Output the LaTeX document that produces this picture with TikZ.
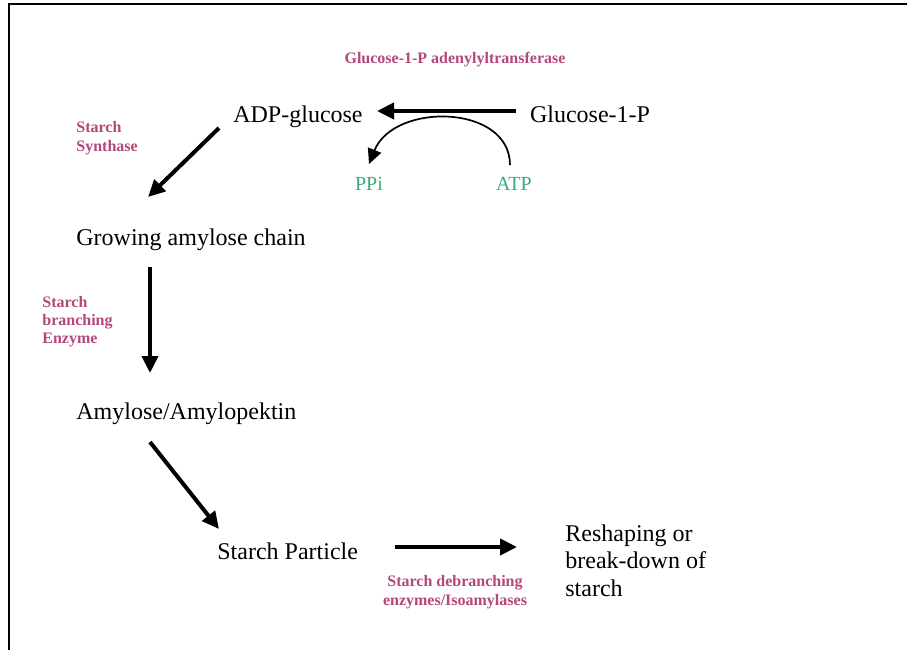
\documentclass[tikz,border=0pt]{standalone}
\usepackage{fontspec}
\setmainfont{Liberation Serif}
\usetikzlibrary{arrows.meta}
\definecolor{enz}{RGB}{180,72,122}
\definecolor{mol}{RGB}{58,170,122}
\begin{document}
\begin{tikzpicture}[x=0.5pt,y=-0.5pt,
  main/.style={inner sep=0pt,anchor=base,font=\fontsize{12}{13.75}\selectfont},
  mainw/.style={main,anchor=base west},
  enzlab/.style={inner sep=0pt,anchor=base west,text=enz,font=\fontsize{8}{9.5}\selectfont\bfseries},
  enzc/.style={enzlab,anchor=base},
  mollab/.style={inner sep=0pt,anchor=base,text=mol,font=\fontsize{10}{12}\selectfont},
  bigarrow/.style={line width=2pt,-{Triangle[length=8.5pt,width=8pt]}},
  thinarrow/.style={line width=0.85pt,-{Triangle[length=7.5pt,width=7pt]}},
  frame/.style={line width=1.2pt}]
\useasboundingbox (0,0) rectangle (907,650);
\fill[white] (0,0) rectangle (907,650);
% frame
\coordinate (fb) at (9,650);
\coordinate (fc) at (9,4);
\coordinate (fr) at (907,4);
\draw[frame] (fb) -- (fc) -- (fr);
% molecules
\node[main] (adp) at (298,122) {ADP-glucose};
\node[main] (g1p) at (590,122) {Glucose-1-P};
\node[mainw] (grow) at (76,245) {Growing amylose chain};
\node[mainw] (amyl) at (76,419) {Amylose/Amylopektin};
\node[mainw] (part) at (217,559) {Starch Particle};
\node[mainw] (resh1) at (565,541) {Reshaping or};
\node[mainw] (resh2) at (565,568) {break-down of};
\node[mainw] (resh3) at (565,596) {starch};
\node[mollab] (ppi) at (369,190) {PPi};
\node[mollab] (atp) at (514,190) {ATP};
% enzymes
\node[enzc] (e1) at (455,63) {Glucose-1-P adenylyltransferase};
\node[enzlab] (e2a) at (76,132) {Starch};
\node[enzlab] (e2b) at (76,151) {Synthase};
\node[enzlab] (e3a) at (42,307) {Starch};
\node[enzlab] (e3b) at (42,325) {branching};
\node[enzlab] (e3c) at (42,343) {Enzyme};
\node[enzc] (e4a) at (455,586) {Starch debranching};
\node[enzc] (e4b) at (455,605) {enzymes/Isoamylases};
% connector ends
\coordinate (c1s) at (516,111);
\coordinate (c1e) at (377,111);
\coordinate (c2s) at (510,165);
\coordinate (c2e) at (369,164);
\coordinate (c3s) at (219,128);
\coordinate (c3e) at (148,197);
\coordinate (c4s) at (150,267);
\coordinate (c4e) at (150,373);
\coordinate (c5s) at (150,442);
\coordinate (c5e) at (219,529);
\coordinate (c6s) at (395,547);
\coordinate (c6e) at (517,547);
% connectors
\draw[bigarrow] (c1s) -- (c1e);
\draw[thinarrow] (c2s) .. controls (510,104) and (394,102) .. (c2e);
\draw[bigarrow] (c3s) -- (c3e);
\draw[bigarrow] (c4s) -- (c4e);
\draw[bigarrow] (c5s) -- (c5e);
\draw[bigarrow] (c6s) -- (c6e);
\end{tikzpicture}
\end{document}
